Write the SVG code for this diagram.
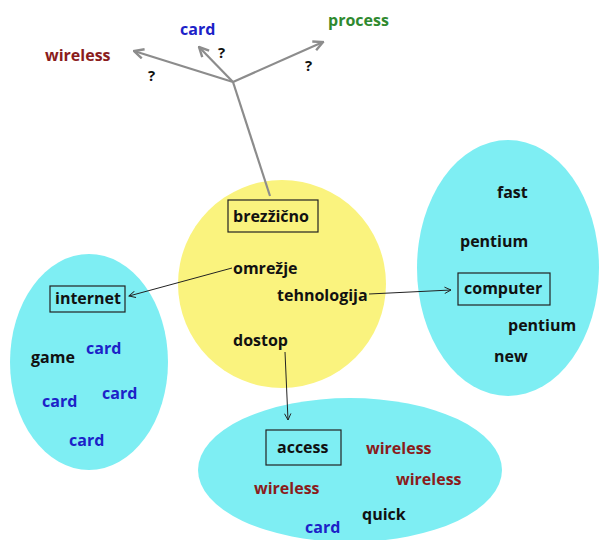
<svg xmlns="http://www.w3.org/2000/svg" width="600" height="540" viewBox="0 0 600 540">
  <style>
    text { font-family: "Open Sans", "Liberation Sans", sans-serif; font-weight: bold; font-size: 16px; }
    .k { fill: #111; }
    .r { fill: #8a1c1c; }
    .b { fill: #1c22c8; }
    .g { fill: #2f8a2f; }
    .q { fill: #111; font-size: 15px; }
    .cluster { fill: #7eeef3; }
    .core { fill: #faf37e; }
    .box { fill: none; stroke: #222; stroke-width: 1.2; }
    .link { stroke: #222; stroke-width: 1; fill: none; }
    .ray { stroke: #8c8c8c; stroke-width: 2.2; fill: none; }
  </style>
  <defs>
    <marker id="tip" viewBox="0 0 10 10" refX="9" refY="5" markerWidth="8" markerHeight="8" orient="auto" markerUnits="userSpaceOnUse">
      <path d="M1,1 L9,5 L1,9" fill="none" stroke="#222" stroke-width="1.2"/>
    </marker>
    <marker id="graytip" viewBox="0 0 10 10" refX="9" refY="5" markerWidth="12" markerHeight="12" orient="auto" markerUnits="userSpaceOnUse">
      <path d="M1,1 L9,5 L1,9" fill="none" stroke="#8c8c8c" stroke-width="2"/>
    </marker>
  </defs>
  <rect width="600" height="540" fill="#fff"/>

  <!-- backgrounds -->
  <circle class="core" cx="282" cy="284" r="104"/>
  <ellipse class="cluster" cx="89" cy="362" rx="79" ry="108"/>
  <ellipse class="cluster" cx="508" cy="268" rx="91" ry="128"/>
  <ellipse class="cluster" cx="350" cy="470" rx="152" ry="72"/>

  <!-- connectors -->
  <g id="connectors">
    <path class="ray" d="M270,196 L233,82"/>
    <path class="ray" d="M233,82 L134,51" marker-end="url(#graytip)"/>
    <path class="ray" d="M233,82 L199,47" marker-end="url(#graytip)"/>
    <path class="ray" d="M233,82 L323,42" marker-end="url(#graytip)"/>
    <path class="link" d="M232,268 L129,296" marker-end="url(#tip)"/>
    <path class="link" d="M369,294 L451,290" marker-end="url(#tip)"/>
    <path class="link" d="M285,352 L288,420" marker-end="url(#tip)"/>
  </g>

  <g id="questions">
    <text class="r" x="45" y="61">wireless</text>
    <text class="b" x="180" y="35">card</text>
    <text class="g" x="328" y="26">process</text>
    <text class="q" x="148" y="81">?</text>
    <text class="q" x="218" y="58">?</text>
    <text class="q" x="305" y="71">?</text>
  </g>

  <g id="core">
    <rect class="box" x="228" y="200" width="90" height="32"/>
    <text class="k" x="233" y="222">brezžično</text>
    <text class="k" x="233" y="274">omrežje</text>
    <text class="k" x="277" y="301">tehnologija</text>
    <text class="k" x="233" y="346">dostop</text>
  </g>

  <g id="internet">
    <rect class="box" x="50" y="286" width="75" height="26"/>
    <text class="k" x="55" y="304">internet</text>
    <text class="k" x="31" y="363">game</text>
    <text class="b" x="86" y="354">card</text>
    <text class="b" x="42" y="407">card</text>
    <text class="b" x="102" y="399">card</text>
    <text class="b" x="69" y="446">card</text>
  </g>

  <g id="computer">
    <text class="k" x="497" y="198">fast</text>
    <text class="k" x="460" y="247">pentium</text>
    <rect class="box" x="458" y="273" width="92" height="32"/>
    <text class="k" x="464" y="294">computer</text>
    <text class="k" x="508" y="331">pentium</text>
    <text class="k" x="494" y="362">new</text>
  </g>

  <g id="access">
    <rect class="box" x="266" y="430" width="75" height="35"/>
    <text class="k" x="277" y="453">access</text>
    <text class="r" x="366" y="454">wireless</text>
    <text class="r" x="396" y="485">wireless</text>
    <text class="r" x="254" y="494">wireless</text>
    <text class="k" x="362" y="520">quick</text>
    <text class="b" x="305" y="533">card</text>
  </g>
</svg>
